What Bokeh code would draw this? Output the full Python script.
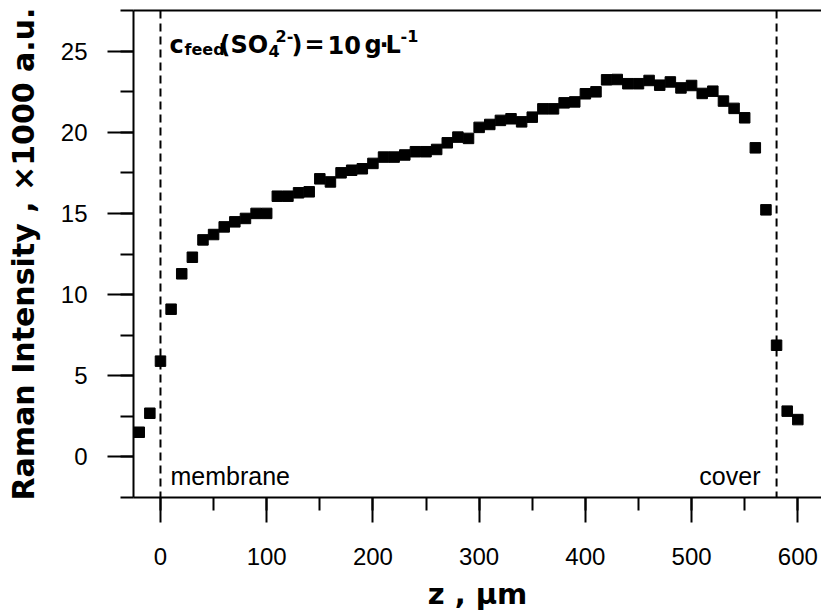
from bokeh.plotting import figure
from bokeh.models import Range1d, LinearAxis, SingleIntervalTicker, FixedTicker, Span, Label, Arrow
from bokeh.embed import file_html
from bokeh.resources import INLINE

# ---- data ----
z_um = [-20, -10, 0, 10, 20, 30, 40, 50, 60, 70, 80, 90, 100, 110, 120, 130, 140, 150,
        160, 170, 180, 190, 200, 210, 220, 230, 240, 250, 260, 270, 280, 290, 300, 310,
        320, 330, 340, 350, 360, 370, 380, 390, 400, 410, 420, 430, 440, 450, 460, 470,
        480, 490, 500, 510, 520, 530, 540, 550, 560, 570, 580, 590, 600]
intensity_k = [1.52, 2.69, 5.9, 9.1, 11.28, 12.3, 13.37, 13.7, 14.17, 14.48, 14.69, 15.0, 15.0,
               16.06, 16.06, 16.27, 16.33, 17.13, 16.94, 17.5, 17.66, 17.75, 18.08, 18.47,
               18.47, 18.6, 18.8, 18.8, 18.94, 19.35, 19.7, 19.62, 20.3, 20.48, 20.73, 20.83,
               20.64, 20.93, 21.44, 21.44, 21.81, 21.87, 22.37, 22.49, 23.23, 23.25, 22.99,
               22.99, 23.19, 22.9, 23.1, 22.73, 22.88, 22.39, 22.53, 21.92, 21.47, 20.89,
               19.04, 15.22, 6.88, 2.82, 2.3]
membrane_z = 0
cover_z = 580
x_label = "z , μm"
y_label = "Raman Intensity , ×1000 a.u."

# ---- figure ----
X0, X1 = -25.4, 622.3
Y0, Y1 = -2.5, 27.5
FL, FR, FT, FB = 133, 821, 10, 497
p = figure(width=821, height=614, output_backend="svg", toolbar_location=None,
           x_range=Range1d(X0, X1), y_range=Range1d(Y0, Y1),
           x_axis_location=None, y_axis_location=None,
           min_border_left=FL, min_border_right=0, min_border_top=FT,
           min_border_bottom=614 - FB)
p.grid.visible = False
p.outline_line_color = None
p.background_fill_color = "white"
p.border_fill_color = "white"

def dx(px):
    return X0 + (px - FL) * (X1 - X0) / (FR - FL)
def dy(py):
    return Y1 - (py - FT) * (Y1 - Y0) / (FB - FT)

def style_axis(ax):
    ax.axis_line_width = 2
    ax.axis_line_color = "black"
    ax.major_tick_line_width = 2
    ax.minor_tick_line_width = 2
    ax.major_tick_line_color = "black"
    ax.minor_tick_line_color = "black"
    ax.major_tick_in = 0
    ax.minor_tick_in = 0
    ax.major_label_text_font = "Liberation Sans"
    ax.major_label_text_font_size = "24px"
    ax.major_label_text_color = "black"
    ax.axis_label_text_font = "DejaVu Sans"
    ax.axis_label_text_font_style = "bold"
    ax.axis_label_text_color = "black"

xaxis = LinearAxis(ticker=SingleIntervalTicker(interval=100, num_minor_ticks=2),
                   axis_label=x_label)
style_axis(xaxis)
xaxis.major_tick_out = 25
xaxis.minor_tick_out = 13
xaxis.major_label_standoff = 25
xaxis.axis_label_text_font_size = "29px"
xaxis.axis_label_standoff = 9
p.add_layout(xaxis, "below")

yaxis = LinearAxis(ticker=SingleIntervalTicker(interval=5, num_minor_ticks=2),
                   axis_label=y_label)
style_axis(yaxis)
yaxis.major_tick_out = 26
yaxis.minor_tick_out = 13
yaxis.major_label_standoff = 20
yaxis.axis_label_text_font_size = "30px"
yaxis.axis_label_standoff = 17
p.add_layout(yaxis, "left")

top = LinearAxis(ticker=FixedTicker(ticks=[]), major_tick_out=0, minor_tick_out=0,
                 major_label_text_font_size="0px", axis_line_width=2, axis_line_color="black")
p.add_layout(top, "above")

# short stubs of the frame lines left of the y axis
for yy in (Y0, Y1):
    p.add_layout(Arrow(x_start=dx(120), y_start=yy, x_end=X0, y_end=yy, end=None,
                       line_width=2, line_color="black"))

for loc in (membrane_z, cover_z):
    p.add_layout(Span(location=loc, dimension="height", line_color="black",
                      line_width=2, line_dash="8 5"))

p.scatter(z_um, intensity_k, marker="square", size=10.5, color="black")

def lab(text, px, py, size, font="DejaVu Sans", style="bold", align="left"):
    p.add_layout(Label(x=dx(px), y=dy(py), text=text, text_font=font,
                       text_font_style=style, text_font_size=size,
                       text_baseline="alphabetic", text_align=align, text_color="black"))

# annotation c_feed(SO4^2-) = 10 g·L^-1
lab("c", 169, 44, "24px")
lab("feed", 184, 49, "16px")
lab("(SO", 219, 44, "24px")
lab("4", 268, 50, "16px")
lab("2-", 275, 35, "16px")
lab(")", 291, 44, "24px")
lab("=", 304, 44, "24px")
lab("10", 327, 44, "24px")
lab("g", 364, 44, "24px")
lab("·", 379, 44, "24px")
lab("L", 385, 44, "24px")
lab("-1", 400, 35, "16px")

lab("membrane", 170, 475, "25px", font="Liberation Sans", style="normal")
lab("cover", 760, 475, "25px", font="Liberation Sans", style="normal", align="right")

open("out.html", "w").write(file_html(p, INLINE))
